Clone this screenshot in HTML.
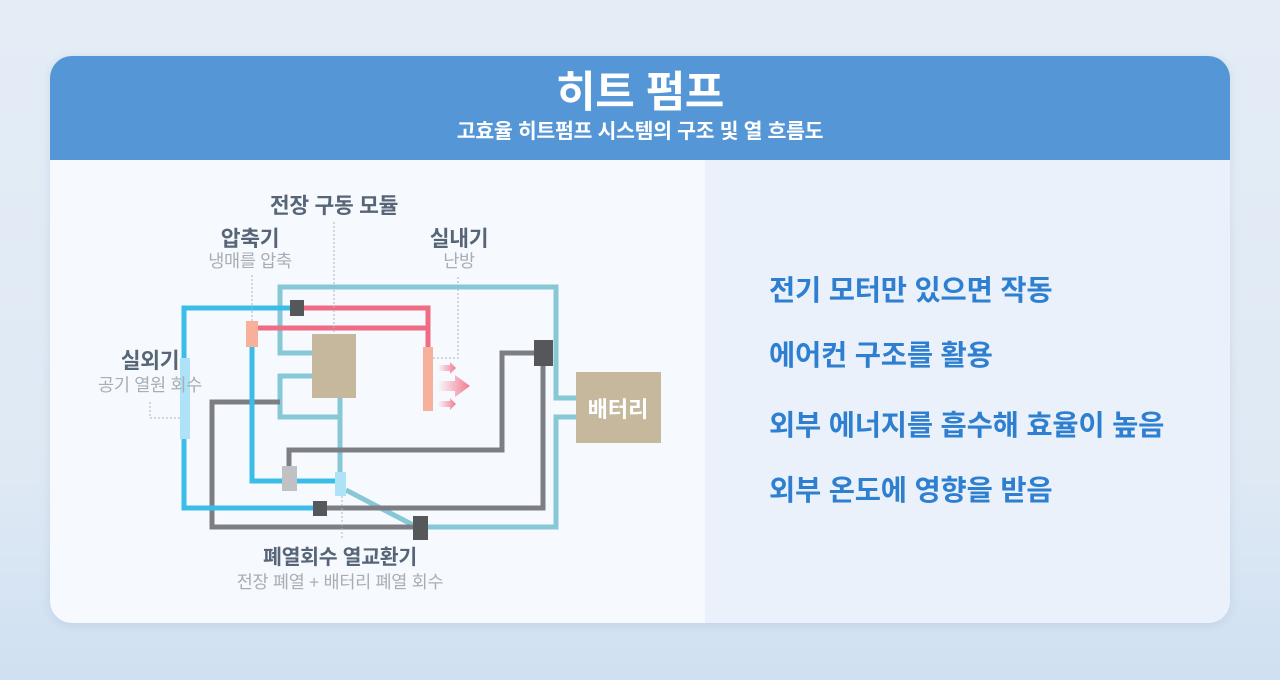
<!DOCTYPE html>
<html><head><meta charset="utf-8"><style>
body{margin:0;width:1280px;height:680px;overflow:hidden;background:linear-gradient(180deg,#e4edf6 0%,#dfe9f4 70%,#cfe0f2 100%);font-family:"Liberation Sans","Noto Sans CJK KR",sans-serif;position:relative}
.card{position:absolute;left:50px;top:56px;width:1180px;height:567px;border-radius:22px;overflow:hidden;background:#f6f9fd;box-shadow:0 2px 10px rgba(80,120,170,.15)}
.hdr{position:absolute;left:0;top:0;width:1180px;height:104px;background:#5596d6;color:#fff;text-align:center}
.t1{position:absolute;left:0;right:0;top:12px;font-size:43px;font-weight:bold;line-height:50px;letter-spacing:-0.5px}
.t2{position:absolute;left:0;right:0;top:63px;font-size:20.5px;font-weight:bold;line-height:26px;letter-spacing:-0.3px}
.right{position:absolute;left:655px;top:104px;width:525px;height:463px;background:#eaf1fb}
.li{position:absolute;left:719px;font-size:28.5px;font-weight:bold;color:#2e7fd0;letter-spacing:-0.2px;line-height:32px}
svg{position:absolute;left:0;top:0}
</style></head><body>
<div class="card">
<div class="hdr"><div class="t1">히트 펌프</div><div class="t2">고효율 히트펌프 시스템의 구조 및 열 흐름도</div></div>
<div class="right"></div>
<div class="li" style="top:219px">전기 모터만 있으면 작동</div>
<div class="li" style="top:284px">에어컨 구조를 활용</div>
<div class="li" style="top:354px">외부 에너지를 흡수해 효율이 높음</div>
<div class="li" style="top:419px">외부 온도에 영향을 받음</div>
</div>
<svg width="1280" height="680" viewBox="0 0 1280 680" font-family="Liberation Sans, Noto Sans CJK KR, sans-serif">
<defs><linearGradient id="ag" x1="0" x2="1"><stop offset="0" stop-color="#f47a90" stop-opacity="0"/><stop offset="1" stop-color="#f47a90"/></linearGradient></defs>
<g fill="none" stroke-width="5">
<g stroke="#86c8d6">
<polyline points="312,353 280,353 280,287 556,287 556,398 576,398"/>
<polyline points="312,376 280,376 280,417 340,417"/>
<polyline points="340,398 340,474"/>
<line x1="346" y1="490" x2="415" y2="526"/>
<polyline points="428,527 556,527 556,417 576,417"/>
</g>
<g stroke="#7c7e84">
<polyline points="280,402 212,402 212,527 413,527"/>
<polyline points="289,468 289,450 502,450 502,353 534,353"/>
<polyline points="543,366 543,508 327,508"/>
</g>
<g stroke="#3bbde8">
<polyline points="290,308 184,308 184,508 313,508"/>
<polyline points="252,347 252,481 335,481"/>
</g>
<g stroke="#f06c85">
<polyline points="304,308 428,308 428,347"/>
<polyline points="258,328 428,328"/>
</g>
</g>
<g stroke="#b0b4ba" stroke-width="1" stroke-dasharray="2,2" fill="none">
<line x1="334" y1="222" x2="334" y2="334"/>
<line x1="252" y1="275" x2="252" y2="321"/>
<polyline points="458,277 458,358 433,358"/>
<polyline points="150,402 150,418 180,418"/>
<line x1="342" y1="496" x2="342" y2="540"/>
</g>
<rect x="312" y="334" width="44" height="64" fill="#c5b89d"/>
<rect x="576" y="372" width="85" height="71" fill="#c5b89d"/>
<text x="618" y="417" font-size="22" font-weight="bold" fill="#fff" text-anchor="middle">배터리</text>
<rect x="246" y="321" width="12" height="26" fill="#f7b09a"/>
<rect x="423" y="347" width="10" height="64" fill="#f7b09a"/>
<rect x="180" y="358" width="10" height="81" fill="#aee3f7"/>
<rect x="335" y="472" width="11" height="24" fill="#aee3f7"/>
<rect x="282" y="466" width="15" height="25" fill="#bfc1c5"/>
<rect x="290" y="300" width="14" height="16" fill="#56575b"/>
<rect x="313" y="501" width="14" height="15" fill="#56575b"/>
<rect x="534" y="340" width="19" height="26" fill="#56575b"/>
<rect x="413" y="516" width="15" height="24" fill="#56575b"/>
<polygon points="438,365 450,365 450,362 456,368 450,374 450,371 438,371" fill="url(#ag)"/>
<polygon points="438,381 455,381 455,375 470,386 455,397 455,391 438,391" fill="url(#ag)"/>
<polygon points="438,401 450,401 450,398 456,404 450,410 450,407 438,407" fill="url(#ag)"/>
<g font-weight="bold" fill="#566577" text-anchor="middle" letter-spacing="-0.3">
<text x="334" y="213" font-size="21.5">전장 구동 모듈</text>
<text x="250" y="246" font-size="21.5">압축기</text>
<text x="459" y="246" font-size="21.5">실내기</text>
<text x="150" y="368" font-size="21.5">실외기</text>
<text x="340" y="564" font-size="20.5">폐열회수 열교환기</text>
</g>
<g fill="#a7aeb7" text-anchor="middle" font-size="17.5" letter-spacing="-0.3">
<text x="250" y="267">냉매를 압축</text>
<text x="459" y="267">난방</text>
<text x="150" y="391">공기 열원 회수</text>
<text x="340" y="588">전장 폐열 + 배터리 폐열 회수</text>
</g>
</svg>
</body></html>
